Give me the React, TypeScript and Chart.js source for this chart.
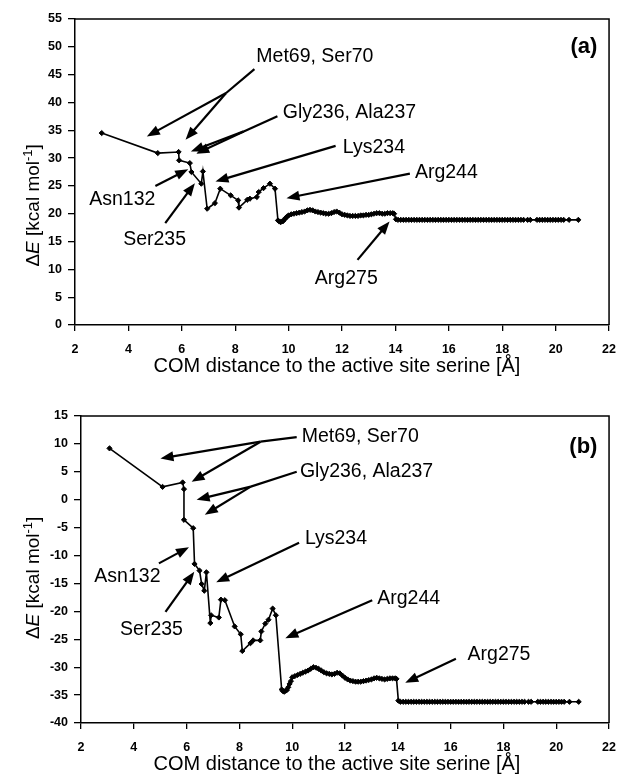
import React, { useEffect, useRef } from 'react';
import { Chart, registerables } from 'chart.js';

Chart.register(...registerables);

const FONT = '"Liberation Sans", Arial, Helvetica, sans-serif';

// ---- Panel (a) data ----
const earlyDistanceA = [3.0, 5.1, 5.88, 5.9, 6.3, 6.36, 6.73, 6.79, 6.95, 7.24, 7.44, 7.83, 8.11, 8.14, 8.45, 8.55, 8.81, 8.88, 9.06, 9.3, 9.49];
const earlyEnergyA = [34.5, 30.9, 31.1, 29.6, 29.1, 27.5, 25.4, 27.6, 20.9, 21.9, 24.5, 23.3, 22.4, 21.1, 22.5, 22.7, 23.0, 23.9, 24.6, 25.4, 24.5];

// ---- Panel (b) data ----
const earlyDistanceB = [3.08, 5.09, 5.85, 5.9, 5.9, 6.25, 6.3, 6.49, 6.57, 6.67, 6.75, 6.9, 6.93, 7.22, 7.3, 7.45, 7.82, 8.05, 8.11, 8.42, 8.52, 8.79, 8.83, 8.98, 9.1, 9.26, 9.38];
const earlyEnergyB = [9.2, 2.3, 3.1, 1.9, -3.6, -5.1, -11.5, -12.7, -15.1, -16.3, -13.0, -22.1, -20.7, -21.1, -17.9, -18.0, -22.7, -24.1, -27.1, -25.7, -25.2, -25.2, -23.6, -22.2, -21.5, -19.5, -20.7];

// ---- shared distances of the outer residues (both panels) ----
const tailDistance = [
  9.6, 9.65, 9.7, 9.75, 9.8, 9.85, 9.9, 9.95, 10.0, 10.1, 10.2, 10.3, 10.4, 10.5, 10.6, 10.7, 10.8, 10.9,
  11.0, 11.1, 11.2, 11.3, 11.4, 11.5, 11.6, 11.7, 11.8, 11.9, 12.0, 12.1, 12.2, 12.3, 12.4, 12.5, 12.6, 12.7,
  12.8, 12.9, 13.0, 13.1, 13.2, 13.3, 13.4, 13.5, 13.6, 13.7, 13.8, 13.9, 13.95,
  14.02, 14.1, 14.2, 14.3, 14.4, 14.5, 14.6, 14.7, 14.8, 14.9, 15.0, 15.1, 15.2, 15.3, 15.4, 15.5, 15.6, 15.7,
  15.8, 15.9, 16.0, 16.1, 16.2, 16.3, 16.4, 16.5, 16.6, 16.7, 16.8, 16.9, 17.0, 17.1, 17.2, 17.3, 17.4, 17.5,
  17.6, 17.7, 17.8, 17.9, 18.0, 18.1, 18.2, 18.3, 18.4, 18.5, 18.6, 18.7, 18.8, 18.95, 19.05, 19.3, 19.4, 19.5,
  19.6, 19.7, 19.8, 19.9, 20.0, 20.1, 20.2, 20.3, 20.5, 20.85,
];
const tailEnergyA = [
  18.8, 18.6, 18.5, 18.6, 18.7, 19.0, 19.3, 19.5, 19.7, 19.9, 20.0, 20.1, 20.2, 20.3, 20.4, 20.6, 20.7, 20.6,
  20.4, 20.3, 20.2, 20.1, 20.0, 20.0, 20.1, 20.3, 20.4, 20.2, 19.9, 19.8, 19.7, 19.6, 19.6, 19.6, 19.6, 19.7,
  19.7, 19.8, 19.8, 19.9, 20.0, 20.1, 20.1, 20.0, 20.0, 20.1, 20.1, 20.1, 20.0,
  19.0, 18.9, 18.9, 18.9, 18.9, 18.9, 18.9, 18.9, 18.9, 18.9, 18.9, 18.9, 18.9, 18.9, 18.9, 18.9, 18.9, 18.9,
  18.9, 18.9, 18.9, 18.9, 18.9, 18.9, 18.9, 18.9, 18.9, 18.9, 18.9, 18.9, 18.9, 18.9, 18.9, 18.9, 18.9, 18.9,
  18.9, 18.9, 18.9, 18.9, 18.9, 18.9, 18.9, 18.9, 18.9, 18.9, 18.9, 18.9, 18.9, 18.9, 18.9, 18.9, 18.9, 18.9,
  18.9, 18.9, 18.9, 18.9, 18.9, 18.9, 18.9, 18.9, 18.9, 18.9,
];
const tailEnergyB = [
  -34.0, -34.3, -34.4, -34.2, -34.1, -33.6, -33.0, -32.5, -31.8, -31.6, -31.4, -31.2, -31.0, -30.8, -30.6, -30.3, -30.0, -30.1,
  -30.3, -30.6, -30.9, -31.1, -31.2, -31.3, -31.2, -31.0, -31.1, -31.5, -31.9, -32.2, -32.4, -32.5, -32.6, -32.6, -32.6, -32.5,
  -32.4, -32.3, -32.2, -32.0, -31.9, -32.0, -32.1, -32.2, -32.1, -32.0, -32.0, -32.0, -32.1,
  -36.0, -36.2, -36.2, -36.2, -36.2, -36.2, -36.2, -36.2, -36.2, -36.2, -36.2, -36.2, -36.2, -36.2, -36.2, -36.2, -36.2, -36.2,
  -36.2, -36.2, -36.2, -36.2, -36.2, -36.2, -36.2, -36.2, -36.2, -36.2, -36.2, -36.2, -36.2, -36.2, -36.2, -36.2, -36.2, -36.2,
  -36.2, -36.2, -36.2, -36.2, -36.2, -36.2, -36.2, -36.2, -36.2, -36.2, -36.2, -36.2, -36.2, -36.2, -36.2, -36.2, -36.2, -36.2,
  -36.2, -36.2, -36.2, -36.2, -36.2, -36.2, -36.2, -36.2, -36.2, -36.2,
];

const xTicks = [2, 4, 6, 8, 10, 12, 14, 16, 18, 20, 22];
const yTicksA = [0, 5, 10, 15, 20, 25, 30, 35, 40, 45, 50, 55];
const yTicksB = [-40, -35, -30, -25, -20, -15, -10, -5, 0, 5, 10, 15];

const xTitle = 'COM distance to the active site serine [Å]';

// annotation labels (data coordinates); segments: [x1, y1, x2, y2, arrowhead]
const labelsA = [
  { text: 'Met69, Ser70', x: 8.79, y: 48.2, align: 'left', segs: [[8.72, 46.0, 7.66, 41.7, 0], [7.66, 41.7, 4.69, 33.9, 1], [7.66, 41.7, 6.14, 33.3, 1]] },
  { text: 'Gly236, Ala237', x: 9.78, y: 38.1, align: 'left', segs: [[9.58, 37.5, 8.32, 34.8, 0], [8.32, 34.8, 6.34, 31.2, 1], [8.32, 34.8, 6.54, 30.8, 1]] },
  { text: 'Lys234', x: 12.03, y: 31.8, align: 'left', segs: [[11.76, 32.2, 7.26, 25.8, 1]] },
  { text: 'Arg244', x: 14.73, y: 27.3, align: 'left', segs: [[14.54, 27.2, 9.92, 22.8, 1]] },
  { text: 'Asn132', x: 5.01, y: 22.5, align: 'right', segs: [[5.01, 25.0, 6.24, 28.0, 1]] },
  { text: 'Ser235', x: 4.98, y: 15.4, align: 'center', segs: [[5.38, 18.3, 6.49, 25.5, 1]] },
  { text: 'Arg275', x: 12.16, y: 8.4, align: 'center', segs: [[12.58, 11.7, 13.78, 18.6, 1]] },
];
const labelsB = [
  { text: 'Met69, Ser70', x: 10.36, y: 11.3, align: 'left', segs: [[10.17, 11.2, 8.8, 10.4, 0], [8.8, 10.4, 5.01, 7.4, 1], [8.8, 10.4, 6.19, 3.2, 1]] },
  { text: 'Gly236, Ala237', x: 10.29, y: 5.0, align: 'left', segs: [[10.17, 5.0, 8.43, 2.35, 0], [8.43, 2.35, 6.38, 0.0, 1], [8.43, 2.35, 6.69, -2.7, 1]] },
  { text: 'Lys234', x: 10.48, y: -6.9, align: 'left', segs: [[10.26, -7.7, 7.12, -14.8, 1]] },
  { text: 'Asn132', x: 5.01, y: -13.8, align: 'right', segs: [[4.95, -11.4, 6.09, -8.5, 1]] },
  { text: 'Ser235', x: 4.67, y: -23.2, align: 'center', segs: [[5.2, -20.1, 6.29, -12.9, 1]] },
  { text: 'Arg244', x: 13.22, y: -17.7, align: 'left', segs: [[13.03, -18.0, 9.74, -24.8, 1]] },
  { text: 'Arg275', x: 16.64, y: -27.8, align: 'left', segs: [[16.2, -28.5, 14.28, -32.8, 1]] },
];

function toPoints(xs: number[], ys: number[]) {
  return xs.map((x, i) => ({ x, y: ys[i] }));
}

function drawArrow(ctx: CanvasRenderingContext2D, x1: number, y1: number, x2: number, y2: number, head: boolean) {
  const L = 13, W = 5;
  const ang = Math.atan2(y2 - y1, x2 - x1);
  const ex = head ? x2 - Math.cos(ang) * (L - 2) : x2;
  const ey = head ? y2 - Math.sin(ang) * (L - 2) : y2;
  ctx.beginPath();
  ctx.moveTo(x1, y1);
  ctx.lineTo(ex, ey);
  ctx.stroke();
  if (head) {
    const bx = x2 - Math.cos(ang) * L, by = y2 - Math.sin(ang) * L;
    ctx.beginPath();
    ctx.moveTo(x2, y2);
    ctx.lineTo(bx + Math.sin(ang) * W, by - Math.cos(ang) * W);
    ctx.lineTo(bx - Math.sin(ang) * W, by + Math.cos(ang) * W);
    ctx.closePath();
    ctx.fill();
  }
}

const overlayPlugin = {
  id: 'overlay',
  afterDraw(chart: any, _args: any, opts: any) {
    const { ctx, chartArea: a } = chart;
    const xs = chart.scales.x, ys = chart.scales.y;
    ctx.save();
    ctx.strokeStyle = '#000';
    ctx.fillStyle = '#000';
    ctx.lineWidth = 1.5;
    ctx.beginPath();
    ctx.moveTo(a.left, a.top);
    ctx.lineTo(a.right, a.top);
    ctx.lineTo(a.right, a.bottom);
    ctx.stroke();

    // annotations
    ctx.lineWidth = 2.2;
    ctx.font = `19.5px ${FONT}`;
    ctx.textBaseline = 'middle';
    for (const lab of opts.labels) {
      ctx.textAlign = lab.align;
      ctx.fillText(lab.text, xs.getPixelForValue(lab.x), ys.getPixelForValue(lab.y));
      for (const s of lab.segs) {
        drawArrow(ctx, xs.getPixelForValue(s[0]), ys.getPixelForValue(s[1]), xs.getPixelForValue(s[2]), ys.getPixelForValue(s[3]), !!s[4]);
      }
    }
    // panel tag
    ctx.font = `bold 22px ${FONT}`;
    ctx.textAlign = 'right';
    ctx.fillText(opts.tag, xs.getPixelForValue(opts.tagX), ys.getPixelForValue(opts.tagY));

    // x title
    ctx.font = `20px ${FONT}`;
    ctx.textAlign = 'center';
    ctx.fillText(xTitle, opts.xTitleX, a.bottom + 41);

    // y title
    ctx.translate(opts.yTitleX, ys.getPixelForValue(opts.yTitleCenter));
    ctx.rotate(-Math.PI / 2);
    const big = `19px ${FONT}`, ital = `italic 19px ${FONT}`, small = `13px ${FONT}`;
    const pieces: [string, string, number][] = [['Δ', big, 0], ['E', ital, 0], [' [kcal mol', big, 0], ['-1', small, -6], [']', big, 0]];
    let total = 0;
    for (const p of pieces) { ctx.font = p[1]; total += ctx.measureText(p[0]).width; }
    let cx = -total / 2;
    ctx.textAlign = 'left';
    for (const p of pieces) {
      ctx.font = p[1];
      ctx.fillText(p[0], cx, p[2]);
      cx += ctx.measureText(p[0]).width;
    }
    ctx.restore();
  },
};

function makeConfig(points: any[], yMin: number, yMax: number, yTicks: number[], yWidth: number, xHeight: number, topPad: number, overlay: any) {
  const tickFont = { family: FONT, size: 12.5, weight: 'bold' as const };
  return {
    type: 'scatter' as const,
    data: {
      datasets: [{
        data: points,
        showLine: true,
        borderColor: '#000',
        borderWidth: 1.6,
        pointStyle: 'rectRot',
        pointRadius: 2.6,
        pointBackgroundColor: '#000',
        pointBorderColor: '#000',
        pointBorderWidth: 1,
        tension: 0,
      }],
    },
    options: {
      responsive: false,
      animation: false,
      devicePixelRatio: 1,
      layout: { padding: { top: topPad, right: 9, left: 0, bottom: 0 } },
      plugins: { legend: { display: false }, tooltip: { enabled: false }, overlay },
      scales: {
        x: {
          type: 'linear',
          min: 2,
          max: 22,
          afterBuildTicks: (s: any) => { s.ticks = xTicks.map((v) => ({ value: v })); },
          ticks: { font: tickFont, color: '#000', padding: 11, maxRotation: 0, autoSkip: false },
          grid: { display: true, drawOnChartArea: false, drawTicks: true, tickLength: 6, color: '#000', lineWidth: 1.3 },
          border: { display: true, color: '#000', width: 1.5 },
          afterFit: (s: any) => { s.height = xHeight; },
        },
        y: {
          type: 'linear',
          min: yMin,
          max: yMax,
          afterBuildTicks: (s: any) => { s.ticks = yTicks.map((v) => ({ value: v })); },
          ticks: { font: tickFont, color: '#000', padding: 6, autoSkip: false },
          grid: { display: true, drawOnChartArea: false, drawTicks: true, tickLength: 7, color: '#000', lineWidth: 1.3 },
          border: { display: true, color: '#000', width: 1.5 },
          afterFit: (s: any) => { s.width = yWidth; },
        },
      },
    },
    plugins: [overlayPlugin],
  };
}

export default function App() {
  const refA = useRef<HTMLCanvasElement>(null);
  const refB = useRef<HTMLCanvasElement>(null);

  useEffect(() => {
    const ptsA = toPoints(earlyDistanceA.concat(tailDistance), earlyEnergyA.concat(tailEnergyA));
    const ptsB = toPoints(earlyDistanceB.concat(tailDistance), earlyEnergyB.concat(tailEnergyB));
    const chartA = new Chart(refA.current as HTMLCanvasElement, makeConfig(ptsA, 0, 55, yTicksA, 75, 65, 19, {
      labels: labelsA, tag: '(a)', tagX: 21.56, tagY: 50.0, xTitleX: 337, yTitleX: 34, yTitleCenter: 21.5,
    }) as any);
    const chartB = new Chart(refB.current as HTMLCanvasElement, makeConfig(ptsB, -40, 15, yTicksB, 81, 56, 26, {
      labels: labelsB, tag: '(b)', tagX: 21.56, tagY: 9.5, xTitleX: 337, yTitleX: 34, yTitleCenter: -14,
    }) as any);
    return () => { chartA.destroy(); chartB.destroy(); };
  }, []);

  return (
    <div style={{ position: 'absolute', left: 0, top: 0, width: 627, height: 779, background: '#fff' }}>
      <canvas ref={refA} width={627} height={390} style={{ position: 'absolute', left: 0, top: 0, width: 627, height: 390 }} />
      <canvas ref={refB} width={627} height={389} style={{ position: 'absolute', left: 0, top: 390, width: 627, height: 389 }} />
    </div>
  );
}
